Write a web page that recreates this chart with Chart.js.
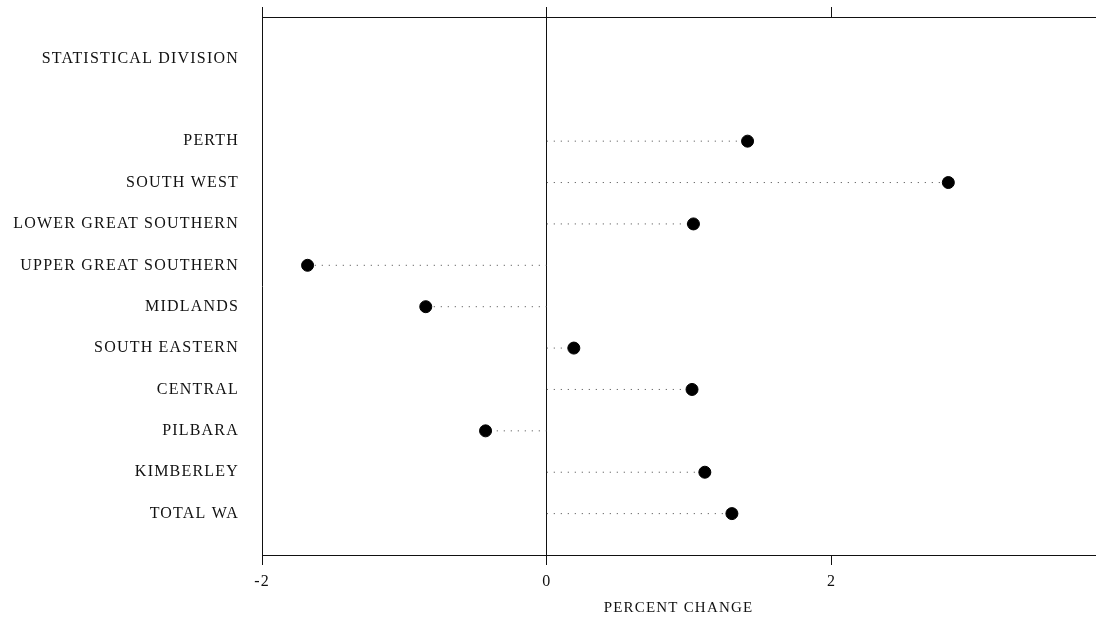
<!DOCTYPE html>
<html>
<head>
<meta charset="utf-8">
<script src="https://cdn.jsdelivr.net/npm/chart.js@4"></script>
<style>
  html, body { margin: 0; padding: 0; background: #fff; }
  #wrap { width: 1109px; height: 619px; }
</style>
</head>
<body>
<div id="wrap"><canvas id="divisionChart"></canvas></div>
<script>
// Data
const headerLabel = 'STATISTICAL DIVISION';
const divisions = ['PERTH', 'SOUTH WEST', 'LOWER GREAT SOUTHERN', 'UPPER GREAT SOUTHERN',
    'MIDLANDS', 'SOUTH EASTERN', 'CENTRAL', 'PILBARA', 'KIMBERLEY', 'TOTAL WA'];
const changes = [1.41, 2.82, 1.03, -1.68, -0.85, 0.19, 1.02, -0.43, 1.11, 1.30];
const xTicks = [-2, -1, 0, 1, 2];
const xLabelled = [-2, 0, 2];

// rows: header on row 0, blank row 1, divisions from row 2
const rowLabels = [headerLabel, ''].concat(divisions);
const firstRow = 2;

const dots = changes.map((v, i) => ({ x: v, y: i + firstRow }));
// dotted leaders from 0 to each value, broken with nulls
const leaders = [];
changes.forEach((v, i) => {
    leaders.push({ x: 0, y: i + firstRow }, { x: v, y: i + firstRow }, { x: null, y: null });
});

const serif = "'Liberation Serif', 'DejaVu Serif', serif";
const ink = '#111';

// the scanned original has slightly wide lettering
const spacing = {
    id: 'spacing',
    beforeLayout: (chart) => { chart.ctx.letterSpacing = '1.2px'; },
    beforeDraw: (chart) => { chart.ctx.letterSpacing = '1.2px'; }
};

const divisionConfig = {
    type: 'scatter',
    data: {
        datasets: [{
            data: leaders,
            showLine: true,
            spanGaps: false,
            borderColor: '#444',
            borderWidth: 1,
            borderDash: [1, 6],
            pointRadius: 0,
            order: 2
        }, {
            data: dots,
            backgroundColor: '#000',
            borderColor: '#000',
            pointRadius: 6,
            order: 1
        }]
    },
    options: {
        responsive: true,
        maintainAspectRatio: false,
        animation: false,
        layout: {
            padding: { top: 7, right: 14, left: 0, bottom: 0 }
        },
        plugins: {
            legend: { display: false },
            tooltip: { enabled: false }
        },
        scales: {
            x: {
                type: 'linear',
                position: 'bottom',
                min: -2,
                max: 3.85,
                afterBuildTicks: (scale) => {
                    scale.ticks = xTicks.map(v => ({ value: v }));
                },
                afterFit: (scale) => { scale.height = 64; },
                ticks: {
                    padding: 7,
                    color: ink,
                    font: { family: serif, size: 16 },
                    maxRotation: 0,
                    callback: (v) => xLabelled.includes(v) ? String(v) : ''
                },
                grid: {
                    drawOnChartArea: true,
                    tickLength: 10,
                    color: (ctx) => ctx.tick && ctx.tick.value === 0 ? ink : 'rgba(0,0,0,0)',
                    tickColor: (ctx) => ctx.tick && xLabelled.includes(ctx.tick.value) ? ink : 'rgba(0,0,0,0)',
                    lineWidth: 1
                },
                border: { display: true, color: ink, width: 1 },
                title: {
                    display: true,
                    text: 'PERCENT CHANGE',
                    color: ink,
                    font: { family: serif, size: 15 },
                    padding: { top: 0, bottom: 2 }
                }
            },
            xTop: {
                type: 'linear',
                position: 'top',
                min: -2,
                max: 3.85,
                afterBuildTicks: (scale) => {
                    scale.ticks = xLabelled.map(v => ({ value: v }));
                },
                afterFit: (scale) => { scale.height = 10; },
                ticks: { display: false },
                grid: {
                    drawOnChartArea: false,
                    tickLength: 10,
                    tickColor: ink
                },
                border: { display: true, color: ink, width: 1 }
            },
            y: {
                type: 'linear',
                reverse: true,
                min: -1,
                max: 12,
                afterBuildTicks: (scale) => {
                    scale.ticks = rowLabels.map((t, i) => ({ value: i }));
                },
                afterFit: (scale) => {
                    scale.width = 262;
                    scale.paddingTop = 0;
                    scale.paddingBottom = 0;
                },
                ticks: {
                    padding: 23,
                    color: ink,
                    font: { family: serif, size: 16 },
                    callback: (v) => rowLabels[v] || ''
                },
                grid: { display: false, drawTicks: false },
                border: { display: true, color: ink, width: 1 }
            }
        }
    },
    plugins: [spacing]
};

const divisionChart = new Chart(
    document.getElementById('divisionChart'),
    divisionConfig
);
</script>
</body>
</html>
